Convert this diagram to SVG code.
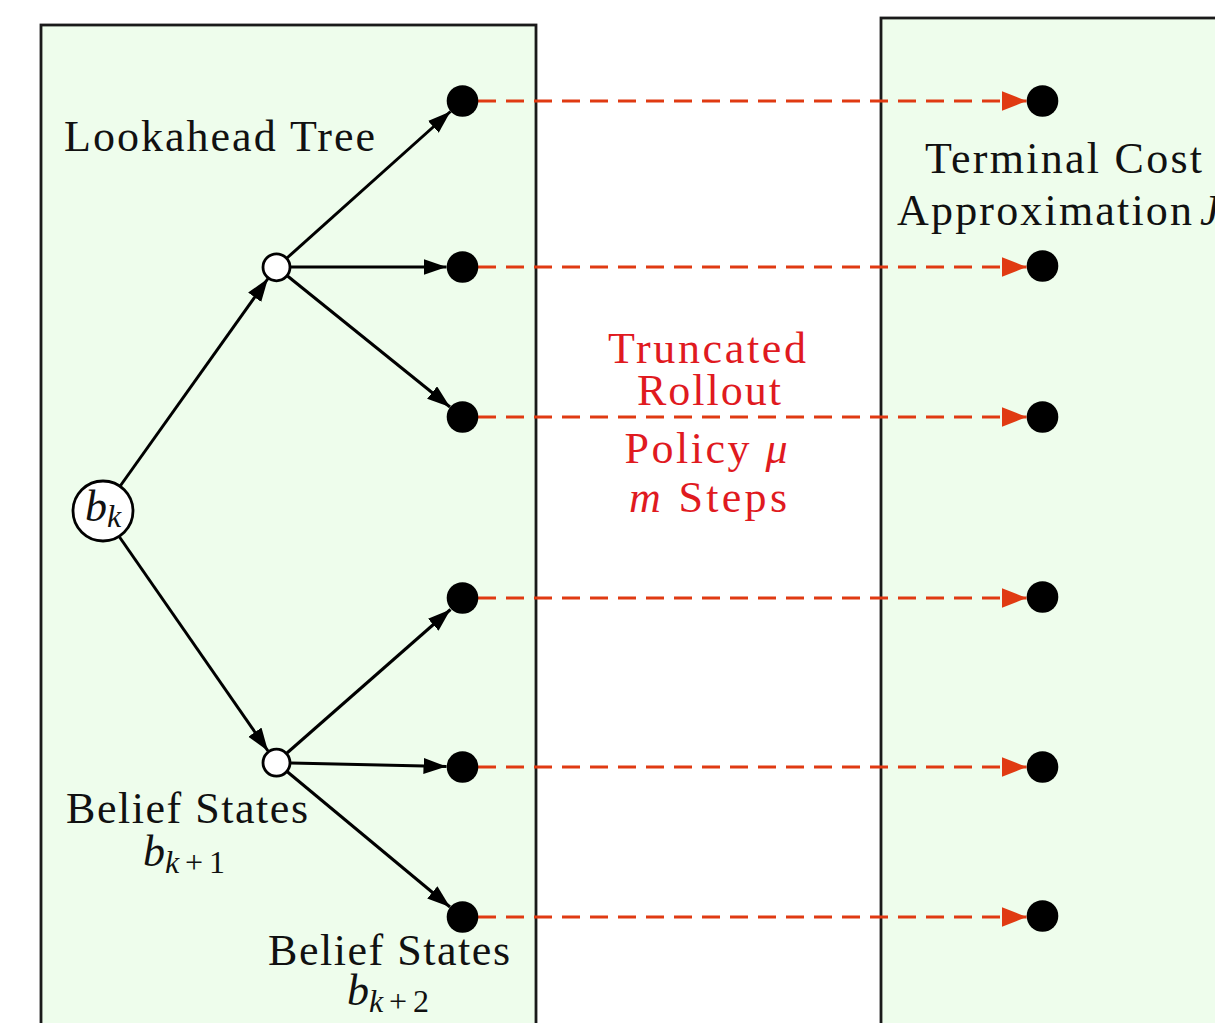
<svg xmlns="http://www.w3.org/2000/svg" width="1215" height="1023" viewBox="0 0 1215 1023">
  <style>
    .panel { fill: #eefdec; stroke: #1a1a1a; stroke-width: 2.8; }
    .edge { fill: none; stroke: #000; stroke-width: 3; marker-end: url(#tip); }
    .roll { fill: none; stroke: #e03a12; stroke-width: 3.2; stroke-dasharray: 18 10; marker-end: url(#redtip); }
    .open { fill: #ffffff; stroke: #000; stroke-width: 2.8; }
    .dot { fill: #000; }
    text { font-family: "Liberation Serif", "DejaVu Serif", serif; font-size: 44px; fill: #111; }
    .red { fill: #e01a1f; }
    .c { text-anchor: middle; }
    .it { font-style: italic; }
    .sub { font-size: 32px; }
  </style>
  <defs>
    <marker id="tip" markerUnits="userSpaceOnUse" markerWidth="25" markerHeight="18" refX="23" refY="8" orient="auto">
      <path d="M0,0 L23,8 L0,16 z" fill="#000"/>
    </marker>
    <marker id="redtip" markerUnits="userSpaceOnUse" markerWidth="27" markerHeight="22" refX="25" refY="10" orient="auto">
      <path d="M0,0 L25,10 L0,20 z" fill="#e03a12"/>
    </marker>
  </defs>

  <rect width="1215" height="1023" fill="#ffffff"/>

  <!-- panels -->
  <g id="lookahead-panel">
    <rect class="panel" x="41" y="25" width="495" height="1010"/>
    <text x="64" y="151" textLength="311" lengthAdjust="spacing">Lookahead Tree</text>
  </g>
  <g id="terminal-panel">
    <rect class="panel" x="881" y="18" width="345" height="1020"/>
    <text x="925" y="173" textLength="277" lengthAdjust="spacing">Terminal Cost</text>
    <text x="897" y="225"><tspan textLength="295" lengthAdjust="spacing">Approximation</tspan><tspan class="it" x="1200">J</tspan></text>
  </g>

  <!-- connectors -->
  <g id="connectors">
    <line class="edge" x1="119.5" y1="487" x2="268" y2="278.5"/>
    <line class="edge" x1="119.5" y1="537" x2="268" y2="751"/>
    <line class="edge" x1="287" y1="258" x2="450.5" y2="111.5"/>
    <line class="edge" x1="291" y1="267" x2="446.5" y2="267"/>
    <line class="edge" x1="287.5" y1="276" x2="450" y2="407"/>
    <line class="edge" x1="287" y1="753" x2="450.5" y2="609.5"/>
    <line class="edge" x1="291" y1="763" x2="446.5" y2="766.5"/>
    <line class="edge" x1="287" y1="771.5" x2="450" y2="907"/>

    <line class="roll" x1="478" y1="101" x2="1026.5" y2="101"/>
    <line class="roll" x1="478" y1="267" x2="1026.5" y2="267"/>
    <line class="roll" x1="478" y1="417" x2="1026.5" y2="417"/>
    <line class="roll" x1="478" y1="598" x2="1026.5" y2="598"/>
    <line class="roll" x1="478" y1="767" x2="1026.5" y2="767"/>
    <line class="roll" x1="478" y1="917" x2="1026.5" y2="917"/>
  </g>

  <!-- rollout annotation -->
  <g id="rollout-label">
    <text class="c red" x="707" y="363" textLength="198" lengthAdjust="spacing">Truncated</text>
    <text class="c red" x="709" y="405" textLength="144" lengthAdjust="spacing">Rollout</text>
    <text class="c red" x="706" y="463" textLength="163" lengthAdjust="spacing">Policy <tspan class="it">μ</tspan></text>
    <text class="c red" x="708" y="512" textLength="158" lengthAdjust="spacing"><tspan class="it">m</tspan> Steps</text>
  </g>

  <!-- tree nodes -->
  <g id="root">
    <circle class="open" cx="103" cy="511" r="30"/>
    <text x="85" y="521"><tspan class="it">b</tspan><tspan class="it sub" dy="6">k</tspan></text>
  </g>
  <g id="belief-upper">
    <circle class="open" cx="276.5" cy="267.3" r="13.5"/>
  </g>
  <g id="belief-lower">
    <circle class="open" cx="276.5" cy="762.7" r="13.5"/>
    <text x="66" y="823" textLength="242" lengthAdjust="spacing">Belief States</text>
    <text x="143" y="866"><tspan class="it">b</tspan><tspan class="sub" dy="7" textLength="60" lengthAdjust="spacing"><tspan class="it">k</tspan>+1</tspan></text>
  </g>
  <g id="leaf-1"><circle class="dot" cx="462.5" cy="101" r="15.8"/></g>
  <g id="leaf-2"><circle class="dot" cx="462.5" cy="267" r="15.8"/></g>
  <g id="leaf-3"><circle class="dot" cx="462.5" cy="417" r="15.8"/></g>
  <g id="leaf-4"><circle class="dot" cx="462.5" cy="598" r="15.8"/></g>
  <g id="leaf-5"><circle class="dot" cx="462.5" cy="767" r="15.8"/></g>
  <g id="leaf-6"><circle class="dot" cx="462.5" cy="917" r="15.8"/></g>
  <g id="leaf-label">
    <text x="268" y="965" textLength="242" lengthAdjust="spacing">Belief States</text>
    <text x="347" y="1005"><tspan class="it">b</tspan><tspan class="sub" dy="7" textLength="60" lengthAdjust="spacing"><tspan class="it">k</tspan>+2</tspan></text>
  </g>

  <!-- terminal nodes -->
  <g id="terminal-1"><circle class="dot" cx="1042.5" cy="101" r="15.8"/></g>
  <g id="terminal-2"><circle class="dot" cx="1042.5" cy="266" r="15.8"/></g>
  <g id="terminal-3"><circle class="dot" cx="1042.5" cy="417" r="15.8"/></g>
  <g id="terminal-4"><circle class="dot" cx="1042.5" cy="597" r="15.8"/></g>
  <g id="terminal-5"><circle class="dot" cx="1042.5" cy="767" r="15.8"/></g>
  <g id="terminal-6"><circle class="dot" cx="1042.5" cy="916" r="15.8"/></g>
</svg>
